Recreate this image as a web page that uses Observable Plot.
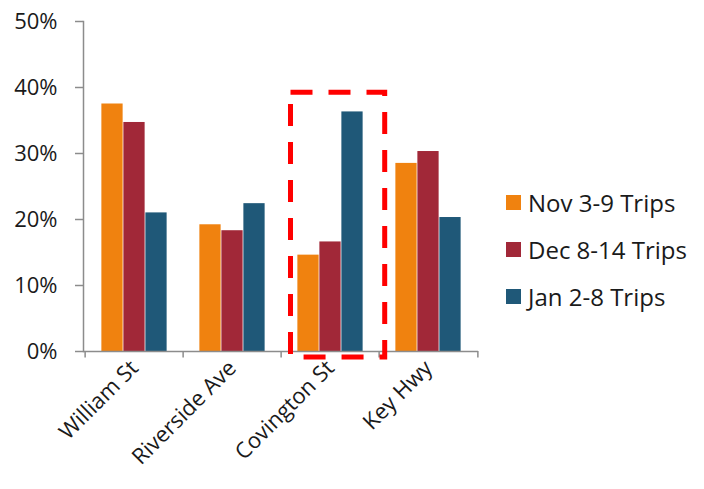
<!DOCTYPE html>
<html><head><meta charset="utf-8">
<script src="https://cdn.jsdelivr.net/npm/d3@7"></script>
<script src="https://cdn.jsdelivr.net/npm/@observablehq/plot@0.6"></script>
<style>
body{margin:0;background:#fff;font-family:"Open Sans",sans-serif;}
#wrap{position:relative;width:704px;height:489px;}
#legend{position:absolute;left:506px;top:0;}
.row{position:absolute;display:flex;align-items:center;white-space:nowrap;font-size:24px;color:#1a1a1a;}
.sw{width:15px;height:15px;margin-right:7px;}
</style></head>
<body><div id="wrap"><div id="legend"></div></div>
<script>
const categories = ["William St", "Riverside Ave", "Covington St", "Key Hwy"];
const series = ["Nov 3-9 Trips", "Dec 8-14 Trips", "Jan 2-8 Trips"];
const nov = [37.5, 19.2, 14.6, 28.5];
const dec = [34.7, 18.3, 16.6, 30.3];
const jan = [21.0, 22.4, 36.3, 20.3];
const colors = ["#f0820f", "#a12838", "#1f5878"];
const yTicks = [0, 10, 20, 30, 40, 50];
const highlight = ["Covington St"];
const highlightRange = [-0.9, 39.2];

const values = [nov, dec, jan];
const data = [];
series.forEach((s, si) => categories.forEach((c, ci) => data.push({cat: c, series: s, value: values[si][ci]})));

const W = 704, H = 489, mL = 83, mR = 226, mT = 21, mB = 138;
const bw = (W - mL - mR) / categories.length;
const barW = 22;
const inset = (bw - barW) / 2;
const axisColor = "#8c8c8c";
const font = '"Open Sans", sans-serif';

const barMarks = series.map((s, si) => Plot.barY(data.filter(d => d.series === s), {
  x: "cat", y: "value", fill: colors[si],
  insetLeft: inset, insetRight: inset, dx: (si - 1) * barW
}));

const plot = Plot.plot({
  width: W, height: H,
  marginLeft: mL, marginRight: mR, marginTop: mT, marginBottom: mB,
  style: {fontFamily: font, fontSize: "22px", color: "#1a1a1a", background: "transparent", overflow: "visible"},
  x: {domain: categories, padding: 0, label: null},
  y: {domain: [0, 50], label: null},
  marks: [
    ...barMarks,
    Plot.frame({anchor: "left", stroke: axisColor, strokeWidth: 1.5}),
    Plot.ruleY([0], {stroke: axisColor, strokeWidth: 1.5}),
    Plot.ruleX(categories, {x: d => d, y1: 0, y2: -1, dx: -bw / 2, stroke: axisColor, strokeWidth: 1.5}),
    Plot.ruleX(categories.slice(-1), {x: d => d, y1: 0, y2: -1, dx: bw / 2, stroke: axisColor, strokeWidth: 1.5}),
    Plot.axisY({ticks: yTicks, tickFormat: d => d + "%", tickSize: 8, tickPadding: 18, stroke: axisColor, strokeWidth: 1.5, fontSize: 22, label: null}),
    Plot.axisX({tickSize: 0, tickRotate: -45, tickPadding: 13, fontSize: 22, label: null}),
    Plot.barY(highlight, {x: d => d, y1: highlightRange[0], y2: highlightRange[1], fill: "none", stroke: "#ff0000", strokeWidth: 5, strokeDasharray: "22,16", dx: 7.6, insetLeft: 1.9, insetRight: 1.9})
  ]
});
document.getElementById("wrap").prepend(plot);

const leg = document.getElementById("legend");
const rowTops = [202, 249, 296];
series.forEach((s, i) => {
  const r = document.createElement("div");
  r.className = "row";
  r.style.top = (rowTops[i] - 17) + "px";
  r.style.height = "34px";
  r.innerHTML = `<div class="sw" style="background:${colors[i]}"></div><span>${s}</span>`;
  leg.appendChild(r);
});
</script>
</body></html>
